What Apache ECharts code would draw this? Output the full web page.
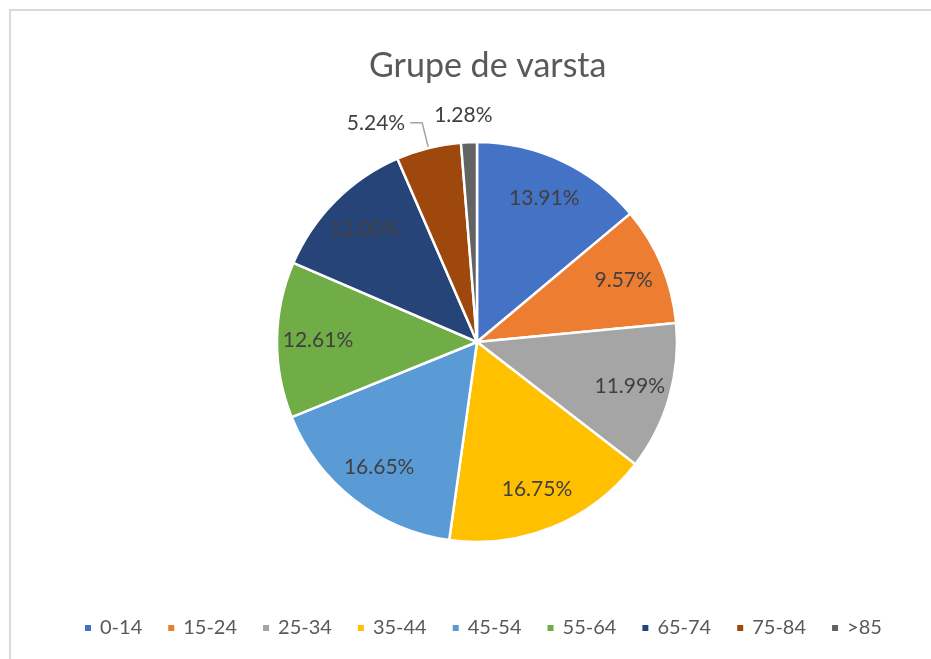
<!DOCTYPE html>
<html>
<head>
<meta charset="utf-8">
<script src="https://cdn.jsdelivr.net/npm/echarts@6/dist/echarts.min.js"></script>
<style>
  html, body { margin: 0; padding: 0; background: #fff; }
  #wrap { position: relative; width: 931px; height: 659px; overflow: hidden; }
  #frame {
    position: absolute; left: 9px; top: 9px; width: 1000px; height: 800px;
    border-left: 2px solid #d9d9d9; border-top: 2px solid #d9d9d9;
  }
  #chart { position: absolute; left: 0; top: 0; width: 931px; height: 659px; }
</style>
</head>
<body>
<div id="wrap">
  <div id="frame"></div>
  <div id="chart"></div>
</div>
<script>
// grupele de varsta si procentele lor
const categories = ["0-14", "15-24", "25-34", "35-44", "45-54", "55-64", "65-74", "75-84", ">85"];
const values = [13.91, 9.57, 11.99, 16.75, 16.65, 12.61, 12.00, 5.24, 1.28];
const colors = ["#4472C4", "#ED7D31", "#A5A5A5", "#FFC000", "#5B9BD5", "#70AD47", "#264478", "#9E480E", "#636363"];
// felii prea mici pentru eticheta interioara
const smallSlices = ["75-84", ">85"];

const font = "Lato";
const chart = echarts.init(document.getElementById("chart"));

const fmt = (p) => p.value.toFixed(2) + "%";

// seria principala: feliile + etichetele exterioare
const mainData = categories.map((name, i) => {
  const small = smallSlices.includes(name);
  return {
    name: name,
    value: values[i],
    itemStyle: { color: colors[i] },
    label: { show: small },
    labelLine: {
      show: name === "75-84",
      length: name === "75-84" ? 26 : 16,
      length2: name === "75-84" ? 12 : 0,
    },
  };
});

// seria transparenta: doar pentru etichetele din interior (mai spre margine)
const labelData = categories.map((name, i) => ({
  name: name,
  value: values[i],
  label: { show: !smallSlices.includes(name) },
}));

const option = {
  backgroundColor: "transparent",
  animation: false,
  title: {
    text: "Grupe de varsta",
    left: 364,
    top: 44,
    textStyle: { fontFamily: font, fontSize: 34, fontWeight: "normal", color: "#595959" },
  },
  legend: {
    bottom: 16,
    left: 78,
    icon: "rect",
    itemWidth: 8,
    itemHeight: 8,
    itemGap: 24,
    data: categories,
    textStyle: { fontFamily: font, fontSize: 20, color: "#595959", padding: [0, 0, 0, 3] },
  },
  series: [
    {
      name: "Grupe de varsta",
      type: "pie",
      center: [477, 342],
      radius: [0, 200],
      startAngle: 90,
      clockwise: true,
      avoidLabelOverlap: false,
      itemStyle: { borderColor: "#fff", borderWidth: 2.5 },
      label: {
        position: "outside",
        formatter: fmt,
        fontFamily: font,
        fontSize: 21,
        color: "#404040",
      },
      labelLine: { lineStyle: { color: "#A6A6A6", width: 1.5 }, smooth: false },
      labelLayout: (p) => (p.dataIndex === 8 ? { align: "center", verticalAlign: "bottom" } : {}),
      emphasis: { disabled: true },
      data: mainData,
    },
    {
      name: "etichete",
      type: "pie",
      silent: true,
      center: [477, 342],
      radius: [112, 200],
      startAngle: 90,
      clockwise: true,
      itemStyle: { color: "rgba(0,0,0,0)", borderWidth: 0 },
      label: {
        position: "inside",
        formatter: fmt,
        fontFamily: font,
        fontSize: 21,
        color: "#404040",
      },
      labelLine: { show: false },
      emphasis: { disabled: true },
      data: labelData,
    },
  ],
};
chart.setOption(option);
</script>
</body>
</html>
